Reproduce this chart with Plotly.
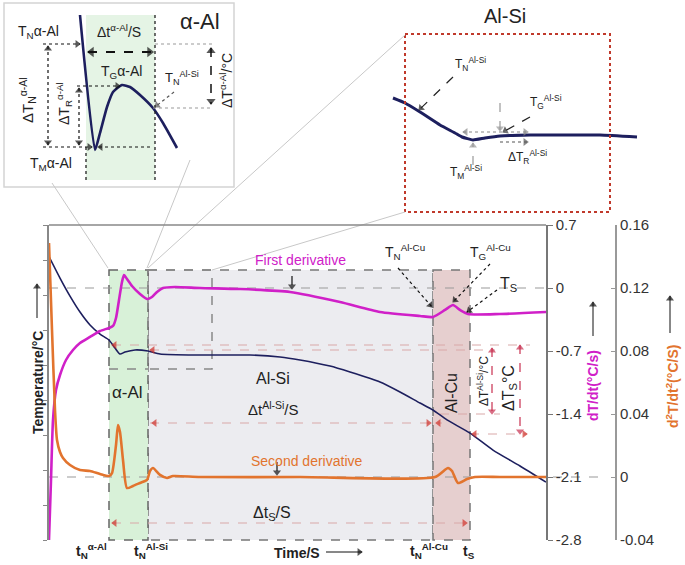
import math
import plotly.graph_objects as go

W, H = 685, 565
FONT = "Liberation Sans, Arial, sans-serif"

NAVY = "#1d1f5e"
MAGENTA = "#d020c8"
ORANGE = "#e2742e"
PINK = "#d9a8a8"
REDH = "#d0302a"

# ---------------- main chart data ----------------
temp_time = [0, 11, 21, 31, 41, 51, 60, 66, 71, 76, 86, 99, 111, 151, 201, 231, 251, 281, 301,
             331, 351, 371, 384, 398, 421, 444, 471, 497]
temp_vals = [642.0, 629.7, 619.4, 610.3, 602.9, 597.7, 594.3, 589.7, 586.3, 587.4, 588.6, 588.0,
             586.3, 585.7, 585.7, 584.6, 582.9, 579.4, 576.0, 570.3, 564.6, 558.3, 554.3, 548.6,
             541.1, 531.4, 522.3, 513.1]

d1_time = [0, 2, 4, 7, 11, 17, 24, 31, 41, 51, 60, 64, 67, 70, 73, 75, 78, 83, 91, 98, 103, 108,
           114, 126, 151, 191, 241, 291, 331, 371, 384, 396, 404, 411, 419, 451, 497]
d1_vals = [-2.8, -2.133, -1.467, -1.133, -0.967, -0.8, -0.689, -0.611, -0.544, -0.478, -0.444,
           -0.422, -0.333, -0.133, 0.067, 0.144, 0.1, 0.022, -0.067, -0.122, -0.1, -0.044, 0.0,
           0.011, 0.0, -0.011, -0.044, -0.156, -0.267, -0.311, -0.322, -0.244, -0.189, -0.244,
           -0.289, -0.289, -0.267]

d2_time = [0, 3, 6, 8, 11, 14, 21, 31, 41, 51, 60, 63, 67, 69, 71, 74, 78, 84, 91, 98, 101, 104,
           111, 118, 124, 151, 251, 386, 399, 403, 409, 418, 426, 451, 497]
d2_vals = [0.1486, 0.0933, 0.0425, 0.0235, 0.0159, 0.0121, 0.0076, 0.0044, 0.0038, 0.0019,
           0.0006, 0.0025, 0.0203, 0.0330, 0.0286, 0.0108, -0.0070, -0.0057, -0.0038, -0.0019,
           0.0038, 0.0057, 0.0013, -0.0006, 0.0006, 0.0, 0.0, 0.0, 0.0057, 0.0038, -0.0038,
           -0.0013, 0.0, 0.0, 0.0]

d1_ticks = [0.7, 0, -0.7, -1.4, -2.1, -2.8]
d1_ticktext = ["0.7", "0", "-0.7", "-1.4", "-2.1", "-2.8"]
d2_ticks = [0.16, 0.12, 0.08, 0.04, 0, -0.04]
d2_ticktext = ["0.16", "0.12", "0.08", "0.04", "0", "-0.04"]
temp_ticks = [480, 500, 520, 540, 560, 580, 600, 620, 640, 660]

# inset curves (arbitrary units)
aal_time = [75, 90, 95, 102, 108, 117, 125, 135, 148, 158, 172]
aal_temp = [171, 36, 53, 79, 94, 101, 99, 91, 78, 63, 38]
alsi_time = [1, 13, 28, 48, 63, 70, 81, 93, 108, 138, 168, 208, 245]
alsi_temp = [114, 109, 100, 87, 79, 75, 72, 74, 76, 77, 77, 77, 75]


def X(px):
    return px / W


def Y(py):
    return 1 - py / H


shapes = []
anns = []
hx, hy, hang, hcol, hsz = [], [], [], [], []


def line(x0, y0, x1, y1, color="#111", width=1.0, dash="solid", layer="above"):
    shapes.append(dict(type="line", xref="paper", yref="paper", x0=X(x0), y0=Y(y0), x1=X(x1),
                       y1=Y(y1), line=dict(color=color, width=width, dash=dash), layer=layer))


def rect(x0, y0, x1, y1, fill="rgba(0,0,0,0)", lc="#777", lw=1.0, dash="solid", layer="below"):
    shapes.append(dict(type="rect", xref="paper", yref="paper", x0=X(x0), y0=Y(y0), x1=X(x1),
                       y1=Y(y1), fillcolor=fill, line=dict(color=lc, width=lw, dash=dash),
                       layer=layer))


def text(x, y, s, size=13, color="#222", angle=0, xa="center", ya="middle", bold=False):
    if bold:
        s = "<b>" + s + "</b>"
    anns.append(dict(x=X(x), y=Y(y), xref="paper", yref="paper", text=s, showarrow=False,
                     font=dict(size=size, color=color, family=FONT), textangle=angle,
                     xanchor=xa, yanchor=ya))


def head(tx, ty, x, y, color="#111", size=7):
    d = math.hypot(x - tx, y - ty)
    ux, uy = (x - tx) / d, (y - ty) / d
    back = size * 0.38
    hx.append(x - ux * back)
    hy.append(y - uy * back)
    hang.append(math.degrees(math.atan2(ux, -uy)))
    hcol.append(color)
    hsz.append(size)


def arrow(tx, ty, x, y, color="#111", dash="dot", width=1.2, both=False, size=7):
    line(tx, ty, x, y, color, width, dash)
    head(tx, ty, x, y, color, size)
    if both:
        head(x, y, tx, ty, color, size)


# ---------------- α-Al inset ----------------
rect(4, 3, 234, 187, fill="white", lc="#d4d4d4", lw=1.5)
rect(86, 15, 155, 180, fill="#e5f4e5", lc="rgba(0,0,0,0)", lw=0)
text(200, 21, "α-Al", size=22)
line(86, 147, 86, 180, "#222", 1.3, "dot")
line(155, 15, 155, 180, "#222", 1.3, "dot")
arrow(43, 44, 80, 44)
line(155, 44, 212, 44, "#999", 1, "dot")
line(153, 108, 212, 108, "#999", 1, "dot")
arrow(88, 52, 153, 52, "#111", "dash", 2.0, both=True, size=9)
arrow(211, 48, 211, 104, "#111", "dash", 1.5, both=True, size=8)
arrow(77, 86, 120, 86)
arrow(79, 88, 79, 145, both=True)
arrow(48, 46, 48, 145, both=True)
arrow(43, 147, 92, 147)
arrow(150, 147, 98, 147)
arrow(174, 92, 155, 107, "#555")
text(38, 32, "T<sub>N</sub>α-Al", size=14)
text(119, 31, "Δt<sup>α-Al</sup>/S", size=14)
text(121, 72, "T<sub>G</sub>α-Al", size=14)
text(182, 78, "T<sub>N</sub><sup>Al-Si</sup>", size=13)
text(27, 100, "ΔT<sub>N</sub><sup>α-Al</sup>", size=15, angle=-90)
text(64, 103, "ΔT<sub>R</sub><sup>α-Al</sup>", size=14, angle=-90)
text(51, 164, "T<sub>M</sub>α-Al", size=14)
text(226, 80, "ΔT<sup>α-Al</sup>/°C", size=14, angle=-90)

# ---------------- Al-Si inset ----------------
rect(405, 34, 610, 212, lc="#c0392b", lw=2, dash="dot", layer="above")
text(505, 16, "Al-Si", size=20)
text(470, 64, "T<sub>N</sub><sup>Al-Si</sup>", size=12)
arrow(453, 77, 419, 110, "#222", "dash")
text(546, 102, "T<sub>G</sub><sup>Al-Si</sup>", size=12)
arrow(530, 117, 503, 132, "#222", "dash")
arrow(500, 103, 500, 131, "#999", "dash")
arrow(463, 132, 528, 132, "#888", "dot", both=True)
arrow(500, 142, 528, 142, "#555", "dot")
arrow(473, 165, 473, 143, "#999", "dash")
text(466, 172, "T<sub>M</sub><sup>Al-Si</sup>", size=12)
text(527, 157, "ΔT<sub>R</sub><sup>Al-Si</sup>", size=12)

# ---------------- connectors ----------------
line(52, 183, 108, 268, "#c8c8c8", 1)
line(190, 160, 147, 268, "#c8c8c8", 1)
line(148, 268, 405, 35, "#c8c8c8", 1)
line(212, 270, 405, 212, "#c8c8c8", 1)

# ---------------- main plot regions ----------------
rect(148, 270, 433, 540, fill="#ececf0", lc="#777", lw=1.5, dash="dash")
rect(109, 270, 148, 540, fill="#d8f1d8", lc="#666", lw=1.5, dash="dash")
rect(433, 270, 470, 540, fill="#e6cfcf", lc="#777", lw=1.5, dash="dash")
rect(148, 270, 212, 369, lc="#888", lw=1.5, dash="dash")
line(109, 369, 148, 369, "#888", 1.5, "dash", layer="below")
line(49, 225, 546, 225, "#888", 1.5)
line(49, 288, 548, 288, "#999", 1.2, "dash", layer="below")
line(49, 477, 600, 477, "#999", 1.2, "dash", layer="below")

# pink dashed measure lines
line(112, 345, 530, 345, PINK, 1, "dash", layer="below")
line(150, 350, 495, 350, PINK, 1, "dash", layer="below")
line(440, 414, 500, 414, PINK, 1, "dash", layer="below")
line(150, 423, 442, 423, PINK, 1, "dash", layer="below")
line(470, 434, 527, 434, PINK, 1, "dash", layer="below")
line(112, 523, 467, 523, PINK, 1, "dash", layer="below")
head(125, 345, 112, 345, REDH, 7)
head(163, 350, 150, 350, REDH, 7)
head(165, 423, 152, 423, REDH, 7)
head(420, 423, 431, 423, REDH, 7)
head(447, 423, 436, 423, REDH, 7)
head(484, 434, 472, 434, REDH, 7)
head(515, 434, 527, 434, REDH, 7)
head(125, 523, 112, 523, REDH, 7)
head(455, 523, 467, 523, REDH, 7)
arrow(492, 348, 492, 414, "#c83050", "dash", 1.2, both=True)
arrow(520, 345, 520, 434, "#c83050", "dash", 1.2, both=True)

# main labels
text(483, 381, "ΔT<sup>Al-Si</sup>/°C", size=12, angle=-90)
text(509, 388, "ΔT<sub>S</sub>°C", size=16, angle=-90)
text(452, 393, "Al-Cu", size=16, angle=-90)
text(128, 393, "α-Al", size=17)
text(273, 378, "Al-Si", size=16)
text(273, 408, "Δt<sup>Al-Si</sup>/S", size=15)
text(272, 513, "Δt<sub>S</sub>/S", size=16)
text(300, 260, "First derivative", size=14, color=MAGENTA)
text(307, 461, "Second derivative", size=14, color=ORANGE)
text(405, 252, "T<sub>N</sub><sup>Al-Cu</sup>", size=14)
text(490, 252, "T<sub>G</sub><sup>Al-Cu</sup>", size=14)
text(508, 284, "T<sub>S</sub>", size=16)
arrow(292, 276, 292, 289, "#111", "dash")
arrow(277, 462, 277, 475, "#111", "dash")
arrow(398, 268, 432, 307, "#111", "dot")
arrow(490, 264, 453, 302, "#111", "dot")
arrow(497, 290, 467, 312, "#111", "dot")

# axis-like labels
text(91, 551, "t<sub>N</sub><sup>α-Al</sup>", size=14, bold=True)
text(151, 551, "t<sub>N</sub><sup>Al-Si</sup>", size=14, bold=True)
text(297, 553, "Time/S", size=14, bold=True)
arrow(326, 552, 362, 552, "#111", "solid", 1)
text(429, 551, "t<sub>N</sub><sup>Al-Cu</sup>", size=14, bold=True)
text(469, 552, "t<sub>S</sub>", size=14, bold=True)
text(38, 383, "Temperature/°C", size=14, angle=-90, bold=True)
arrow(37, 318, 37, 284, "#111", "solid", 1)
text(593, 386, "dT/dt(°C/s)", size=14, angle=-90, color=MAGENTA, bold=True)
arrow(593, 336, 593, 302, "#111", "solid", 1)
text(672, 387, "d<sup>2</sup>T/dt<sup>2</sup>(°C/S)", size=14, angle=-90, color=ORANGE,
     bold=True)
arrow(670, 333, 670, 296, "#111", "solid", 1)

# ---------------- traces ----------------
fig = go.Figure()
fig.add_trace(go.Scatter(x=d2_time, y=d2_vals, xaxis="x", yaxis="y3", mode="lines",
                         line=dict(color=ORANGE, width=2.6, shape="spline", smoothing=0.6)))
fig.add_trace(go.Scatter(x=d1_time, y=d1_vals, xaxis="x", yaxis="y2", mode="lines",
                         line=dict(color=MAGENTA, width=2.6, shape="spline", smoothing=0.6)))
fig.add_trace(go.Scatter(x=temp_time, y=temp_vals, xaxis="x", yaxis="y", mode="lines",
                         line=dict(color=NAVY, width=1.6, shape="spline", smoothing=0.6)))
fig.add_trace(go.Scatter(x=aal_time, y=aal_temp, xaxis="x2", yaxis="y4", mode="lines",
                         line=dict(color=NAVY, width=2.6, shape="spline", smoothing=0.5)))
fig.add_trace(go.Scatter(x=alsi_time, y=alsi_temp, xaxis="x3", yaxis="y5", mode="lines",
                         line=dict(color=NAVY, width=3, shape="spline", smoothing=0.4)))
# arrowheads on a full-figure overlay (pixel units)
fig.add_trace(go.Scatter(x=hx, y=hy, xaxis="x4", yaxis="y6", mode="markers",
                         marker=dict(symbol="triangle-up", size=hsz, angle=hang, color=hcol,
                                     line=dict(width=0)), hoverinfo="skip"))

hidden = dict(visible=False, fixedrange=True, automargin=False)
fig.update_layout(
    width=W, height=H, margin=dict(l=0, r=0, t=0, b=0, pad=0, autoexpand=False),
    paper_bgcolor="white", plot_bgcolor="rgba(0,0,0,0)", showlegend=False,
    font=dict(family=FONT, color="#222"), hovermode=False,
    xaxis=dict(domain=[X(49), X(546)], range=[0, 497], showticklabels=False, showgrid=False,
               zeroline=False, showline=False, ticks="", automargin=False),
    yaxis=dict(domain=[Y(540), Y(225)], range=[480, 660], tickvals=temp_ticks,
               showticklabels=False, showgrid=False, zeroline=False, showline=True,
               linecolor="#888", linewidth=1.5, ticks="outside", ticklen=4, tickcolor="#888",
               automargin=False),
    yaxis2=dict(overlaying="y", side="right", anchor="x", range=[-2.8, 0.7], tickvals=d1_ticks,
                ticktext=d1_ticktext, showgrid=False, zeroline=False, showline=True,
                linecolor="#777", linewidth=1.5, ticks="outside", ticklen=5, tickcolor="#777",
                tickfont=dict(size=15, color="#333"), automargin=False),
    yaxis3=dict(overlaying="y", side="right", anchor="free", position=X(616),
                range=[-0.04, 0.16], tickvals=d2_ticks, ticktext=d2_ticktext, showgrid=False,
                zeroline=False, showline=True, linecolor="#999", linewidth=2, ticks="inside",
                ticklen=4, tickcolor="#999", tickfont=dict(size=15, color="#333"),
                automargin=False),
    xaxis2=dict(domain=[X(5), X(237)], range=[0, 232], anchor="y4", **hidden),
    yaxis4=dict(domain=[Y(186), Y(3)], range=[0, 183], anchor="x2", **hidden),
    xaxis3=dict(domain=[X(392), X(640)], range=[0, 248], anchor="y5", **hidden),
    yaxis5=dict(domain=[Y(212), Y(34)], range=[0, 178], anchor="x3", **hidden),
    xaxis4=dict(domain=[0, 1], range=[0, W], anchor="y6", **hidden),
    yaxis6=dict(domain=[0, 1], range=[H, 0], anchor="x4", **hidden),
    shapes=shapes, annotations=anns,
)
fig.write_html("out.html", config={"displayModeBar": False},
               post_script="document.body.style.margin='0px';"
                           "document.body.style.overflow='hidden';")
